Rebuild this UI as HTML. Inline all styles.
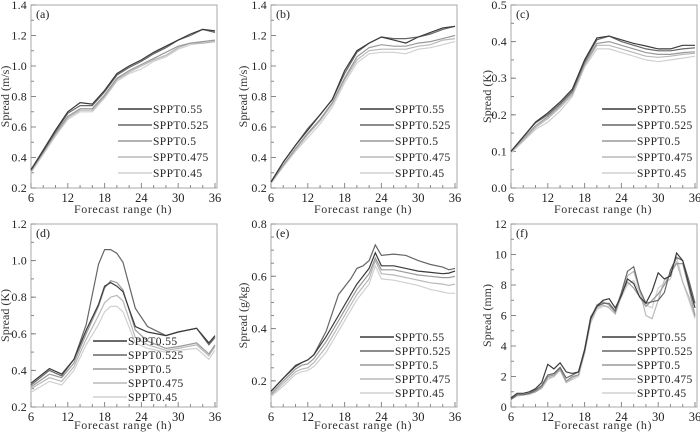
<!DOCTYPE html>
<html><head><meta charset="utf-8"><style>
body{margin:0;background:#fff;width:700px;height:434px;overflow:hidden}
svg{display:block;font-family:"Liberation Serif",serif}
</style></head><body>
<svg id="c" width="700" height="434" xmlns="http://www.w3.org/2000/svg"></svg>
<script>
const seriesNames=["SPPT0.55","SPPT0.525","SPPT0.5","SPPT0.475","SPPT0.45"];
const xTicks=[6,12,18,24,30,36];
const hoursA=[6,8,10,12,14,16,18,20,22,24,26,28,30,32,34,36];
const a55=[0.32,0.45,0.58,0.70,0.76,0.75,0.84,0.95,1.00,1.04,1.09,1.13,1.17,1.21,1.24,1.23];
const a525=[0.32,0.44,0.57,0.69,0.74,0.74,0.83,0.94,0.99,1.03,1.08,1.12,1.17,1.20,1.24,1.22];
const a5=[0.31,0.44,0.56,0.67,0.72,0.72,0.81,0.92,0.97,1.01,1.05,1.09,1.13,1.15,1.16,1.17];
const a475=[0.31,0.43,0.55,0.66,0.71,0.71,0.80,0.91,0.96,1.00,1.04,1.07,1.12,1.15,1.15,1.16];
const a45=[0.30,0.42,0.54,0.65,0.70,0.70,0.79,0.90,0.95,0.98,1.03,1.06,1.11,1.14,1.15,1.16];
const b55=[0.24,0.37,0.48,0.58,0.68,0.78,0.97,1.10,1.15,1.19,1.17,1.15,1.19,1.22,1.25,1.26];
const b525=[0.24,0.37,0.48,0.59,0.68,0.78,0.95,1.09,1.15,1.19,1.18,1.18,1.19,1.21,1.24,1.26];
const b5=[0.24,0.35,0.46,0.56,0.65,0.76,0.92,1.06,1.12,1.14,1.13,1.13,1.15,1.16,1.18,1.20];
const b475=[0.23,0.35,0.45,0.55,0.64,0.75,0.91,1.04,1.10,1.11,1.11,1.11,1.13,1.14,1.17,1.18];
const b45=[0.23,0.34,0.44,0.53,0.62,0.73,0.89,1.02,1.08,1.09,1.09,1.08,1.11,1.12,1.14,1.16];
const c55=[0.10,0.14,0.18,0.205,0.235,0.27,0.35,0.41,0.415,0.405,0.395,0.388,0.38,0.38,0.39,0.39];
const c525=[0.10,0.14,0.178,0.20,0.23,0.265,0.345,0.405,0.415,0.40,0.39,0.38,0.375,0.375,0.38,0.383];
const c5=[0.10,0.135,0.17,0.195,0.225,0.26,0.34,0.395,0.40,0.39,0.38,0.37,0.365,0.365,0.37,0.372];
const c475=[0.10,0.13,0.165,0.19,0.22,0.255,0.335,0.39,0.39,0.38,0.37,0.36,0.357,0.36,0.365,0.368];
const c45=[0.095,0.128,0.16,0.18,0.21,0.25,0.33,0.38,0.38,0.37,0.36,0.35,0.345,0.35,0.355,0.36];
const hoursD=[6,9,11,13,15,17,18,19,20,21,23,25,28,30,33,35,36];
const d55=[0.33,0.41,0.38,0.46,0.62,0.76,0.86,0.88,0.86,0.83,0.64,0.61,0.59,0.61,0.63,0.55,0.59];
const d525=[0.32,0.40,0.37,0.46,0.65,0.98,1.06,1.06,1.04,0.99,0.74,0.64,0.59,0.61,0.63,0.54,0.58];
const d5=[0.31,0.38,0.36,0.44,0.60,0.75,0.85,0.89,0.88,0.84,0.62,0.56,0.52,0.53,0.55,0.49,0.54];
const d475=[0.30,0.36,0.34,0.42,0.57,0.70,0.77,0.80,0.81,0.78,0.58,0.54,0.51,0.52,0.54,0.48,0.53];
const d45=[0.28,0.34,0.32,0.40,0.54,0.65,0.72,0.75,0.75,0.72,0.55,0.52,0.50,0.51,0.52,0.46,0.51];
const hoursE=[6,8,10,11,12,13,15,17,19,20,21,22,23,24,26,28,30,32,34,35,36];
const e55=[0.16,0.21,0.255,0.27,0.28,0.30,0.37,0.45,0.53,0.57,0.60,0.63,0.69,0.64,0.64,0.63,0.62,0.615,0.61,0.612,0.62];
const e525=[0.16,0.21,0.26,0.27,0.28,0.30,0.39,0.53,0.59,0.63,0.64,0.66,0.72,0.68,0.685,0.68,0.66,0.645,0.635,0.625,0.63];
const e5=[0.15,0.20,0.245,0.26,0.265,0.285,0.35,0.43,0.51,0.55,0.58,0.61,0.67,0.625,0.625,0.615,0.605,0.60,0.595,0.595,0.60];
const e475=[0.145,0.19,0.235,0.245,0.25,0.27,0.33,0.41,0.49,0.53,0.56,0.59,0.66,0.61,0.605,0.595,0.585,0.575,0.57,0.565,0.57];
const e45=[0.14,0.18,0.225,0.235,0.24,0.255,0.31,0.39,0.47,0.51,0.54,0.57,0.64,0.59,0.585,0.575,0.565,0.55,0.54,0.535,0.535];
const hoursF=[6,7,8,9,10,11,12,13,14,15,16,17,18,19,20,21,22,23,24,25,26,27,28,29,30,31,32,33,34,35,36];
const f55=[0.6,0.9,0.9,1.0,1.2,1.6,2.8,2.5,2.9,2.3,2.2,2.3,3.7,5.8,6.6,7.0,7.1,6.5,7.3,8.4,8.1,7.2,6.8,7.6,8.8,8.4,8.6,10.1,9.6,8.0,6.5];
const f525=[0.5,0.8,0.8,0.9,1.1,1.4,2.1,2.2,2.6,1.9,2.1,2.3,3.8,5.9,6.6,6.8,6.8,6.3,7.5,8.9,9.2,7.7,6.8,6.9,7.0,7.5,9.0,9.8,9.6,8.3,6.8];
const f5=[0.5,0.8,0.8,0.9,1.0,1.3,2.0,2.1,2.5,1.7,2.0,2.1,3.7,5.8,6.7,6.9,6.7,6.2,7.4,8.2,7.8,7.2,6.6,7.0,7.4,8.0,8.8,9.4,9.4,7.8,6.0];
const f475=[0.5,0.8,0.8,0.9,1.0,1.3,1.9,2.0,2.5,1.6,1.9,2.1,3.6,5.6,6.5,6.7,6.5,6.1,7.3,8.6,8.9,7.6,6.0,5.8,7.0,8.3,8.7,9.5,8.2,7.2,5.9];
const f45=[0.5,0.7,0.8,0.8,1.0,1.2,1.8,2.0,2.4,1.6,1.8,2.0,3.5,5.5,6.4,6.6,6.6,6.3,7.2,8.0,8.3,7.5,6.7,6.5,7.8,8.1,8.4,9.9,8.2,7.0,5.8];
const yTicksA=["0.2","0.4","0.6","0.8","1.0","1.2","1.4"];
const yTicksC=["0.0","0.1","0.2","0.3","0.4","0.5"];
const yTicksD=["0.2","0.4","0.6","0.8","1.0","1.2"];
const yTicksE=["0.2","0.4","0.6","0.8"];
const yTicksF=["0","2","4","6","8","10","12"];

const colors=["#3a3a3a","#666","#999","#b8b8b8","#d0d0d0"];
const NS="http://www.w3.org/2000/svg";
const svg=document.getElementById('c');
function mk(tag,attrs,parent){const e=document.createElementNS(NS,tag);for(const k in attrs)e.setAttribute(k,attrs[k]);(parent||svg).appendChild(e);return e;}

const panels=[
 {id:"a",L:31,T:5,B:188,ymin:0.2,ymax:1.4,ytk:yTicksA,minor:0.1,unit:"Spread (m/s)",hours:hoursA,data:[a55,a525,a5,a475,a45],legY:109,legDy:16,legX:87,titleX:5,xtY:213},
 {id:"b",L:271,T:5,B:188,ymin:0.2,ymax:1.4,ytk:yTicksA,minor:0.1,unit:"Spread (m/s)",hours:hoursA,data:[b55,b525,b5,b475,b45],legY:109,legDy:16,legX:89,titleX:243,xtY:213},
 {id:"c",L:511,T:5,B:188,ymin:0.0,ymax:0.5,ytk:yTicksC,minor:0.05,unit:"Spread (K)",hours:hoursA,data:[c55,c525,c5,c475,c45],legY:109,legDy:16,legX:91,titleX:487,xtY:213},
 {id:"d",L:31,T:224,B:407,ymin:0.2,ymax:1.2,ytk:yTicksD,minor:0.1,unit:"Spread (K)",hours:hoursD,data:[d55,d525,d5,d475,d45],legY:341,legDy:14,legX:62,titleX:5,xtY:429},
 {id:"e",L:271,T:224,B:407,ymin:0.1,ymax:0.8,ytk:yTicksE,minor:0.05,unit:"Spread (g/kg)",hours:hoursE,data:[e55,e525,e5,e475,e45],legY:337,legDy:14,legX:89,titleX:243,xtY:429},
 {id:"f",L:511,T:224,B:407,ymin:0,ymax:12,ytk:yTicksF,minor:1,unit:"Spread (mm)",hours:hoursF,data:[f55,f525,f5,f475,f45],legY:337,legDy:14,legX:91,titleX:487,xtY:429}
];
panels.forEach(p=>{
 const R=p.L+184;
 const g=mk('g',{});
 
 
 const X=h=>p.L+(h-6)/30*(R-p.L);
 const Y=v=>p.B-(v-p.ymin)/(p.ymax-p.ymin)*(p.B-p.T);
 const fr=mk('rect',{x:p.L,y:p.T,width:R-p.L+2,height:p.B-p.T,fill:"none",stroke:"#aaa","stroke-width":1},g);
 
 
 for(let h=6;h<=36;h+=2){const big=(h%6===0);mk('line',{x1:X(h),x2:X(h),y1:p.B,y2:p.B-(big?5:3),stroke:"#888"},g);}
 for(let v=p.ymin;v<=p.ymax+1e-9;v+=p.minor){mk('line',{x1:p.L,x2:p.L+3,y1:Y(v),y2:Y(v),stroke:"#888"},g);}
 xTicks.forEach(h=>{const t=mk('text',{x:X(h),y:p.B+14,"text-anchor":"middle","font-size":12.5,fill:"#222"},g);t.textContent=h;
  
  });
 p.ytk.forEach(s=>{const v=parseFloat(s);mk('line',{x1:p.L,x2:p.L+5,y1:Y(v),y2:Y(v),stroke:"#888"},g);
  const t=mk('text',{x:p.L-4,y:Y(v)+4,"text-anchor":"end","font-size":12,fill:"#222","letter-spacing":"0.2"},g);t.textContent=s;
  
  });
 const yt=mk('text',{x:0,y:0,transform:`translate(${p.titleX+4},${(p.T+p.B)/2}) rotate(-90)`,"text-anchor":"middle","font-size":12,fill:"#333"},g);yt.textContent=p.unit;
 
 
 const xt=mk('text',{x:(p.L+R)/2,y:p.xtY,"text-anchor":"middle","font-size":12,fill:"#333","letter-spacing":"0.6"},g);xt.textContent="Forecast range (h)";
 
 
 const pl=mk('text',{x:p.L+5,y:p.T+13,"font-size":12,fill:"#222"},g);pl.textContent="("+p.id+")";
 
 
 for(let s=4;s>=0;s--){
  const d=p.data[s].map((v,i)=>(i?"L":"M")+X(p.hours[i]).toFixed(1)+","+Y(v).toFixed(1)).join(" ");
  const path=mk('path',{d:d,fill:"none",stroke:colors[s],"stroke-width":1.2},g);
  
  
 }
 seriesNames.forEach((n,s)=>{
  const y=p.legY+s*p.legDy;
  const lg=mk('g',{},g);
  
  
  mk('line',{x1:p.L+p.legX,x2:p.L+p.legX+34,y1:y,y2:y,stroke:colors[s],"stroke-width":1.6},lg);
  const t=mk('text',{x:p.L+p.legX+35,y:y+4,"font-size":11.5,fill:"#222","letter-spacing":"0.4"},lg);t.textContent=n;
 });
});
</script>
</body></html>
